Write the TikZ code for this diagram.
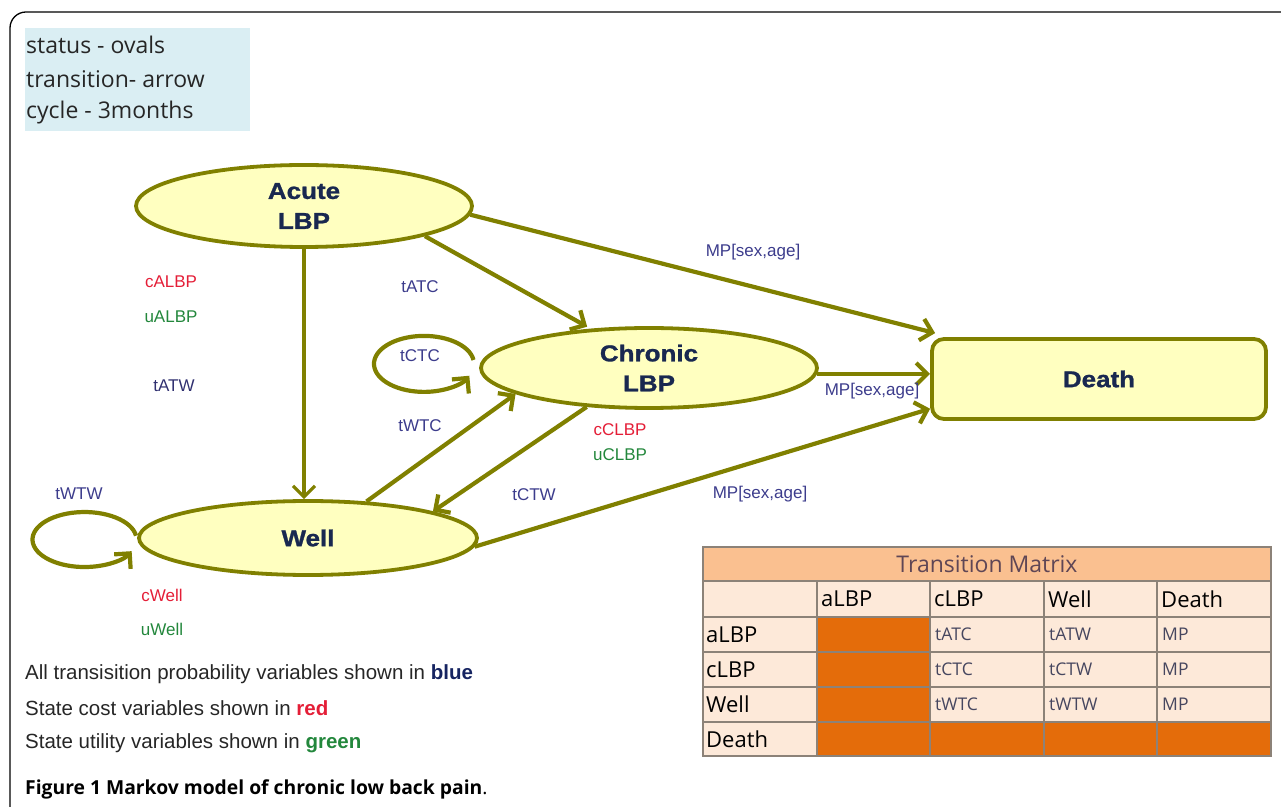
\documentclass[tikz,border=0pt]{standalone}
\usepackage{fontspec}
\setmainfont{Liberation Sans}
\newfontfamily\nodefont{Liberation Sans}[FakeStretch=1.13,FakeBold=1.2]
\newfontfamily\boxfont{Open Sans}
\usetikzlibrary{shapes.geometric,arrows.meta}
\definecolor{olv}{RGB}{128,128,0}
\definecolor{ellfill}{RGB}{255,255,192}
\definecolor{navy}{RGB}{25,40,80}
\definecolor{labblue}{RGB}{60,60,140}
\definecolor{labred}{RGB}{228,30,55}
\definecolor{labgreen}{RGB}{35,135,60}
\definecolor{legbg}{RGB}{218,238,243}
\definecolor{tabtitle}{RGB}{250,192,144}
\definecolor{tabcell}{RGB}{253,233,217}
\definecolor{tabdark}{RGB}{228,108,10}
\definecolor{tabline}{RGB}{140,130,120}
\definecolor{tabtxt}{RGB}{70,70,95}
\tikzset{
  state/.style={ellipse, draw=olv, line width=3.8pt, fill=ellfill, inner sep=0pt,
    text=navy, align=center, font=\nodefont\bfseries\fontsize{23}{30}\selectfont},
  arr/.style={draw=olv, line width=4.2pt, -{Straight Barb[length=11pt,width=22pt]}},
  lab/.style={inner sep=0pt, font=\fontsize{17}{20}\selectfont},
  legtxt/.style={inner sep=0pt, anchor=west, font=\boxfont\fontsize{23}{26}\selectfont, text=black!85},
  botleg/.style={inner sep=0pt, anchor=west, font=\fontsize{20.5}{24}\selectfont, text=black!85},
  hdr/.style={inner sep=0pt, anchor=west, font=\boxfont\fontsize{22}{24}\selectfont, text=black},
  cell/.style={inner sep=0pt, anchor=west, font=\boxfont\fontsize{17.5}{20}\selectfont, text=tabtxt}
}
\begin{document}
\begin{tikzpicture}[x=1pt,y=1pt]
\useasboundingbox (0,0) rectangle (1281,806);
% frame
\draw[line width=1.3pt, rounded corners=16pt] (10,-5) -- (10,794) -- (1290,794);
% legend box
\fill[legbg] (25,675) rectangle (250,778);
\node[legtxt] (l1) at (26,761) {status - ovals};
\node[legtxt] (l2) at (26,727) {transition- arrow};
\node[legtxt] (l3) at (26,693) {cycle - 3months};

% states
\node[state, minimum width=336pt, minimum height=82pt] (A) at (304,600) {Acute\\LBP};
\node[state, minimum width=336pt, minimum height=80pt] (C) at (649,438) {Chronic\\LBP};
\node[state, minimum width=338pt, minimum height=74pt] (W) at (308,268) {Well};
\node[draw=olv, line width=3.8pt, fill=ellfill, rounded corners=12pt, minimum width=334pt,
  minimum height=80pt, text=navy, font=\nodefont\bfseries\fontsize{23}{30}\selectfont] (D) at (1099,427) {Death};

% transitions
\draw[arr] (A.-3) -- ([shift={(5,4)}]D.north west);
\draw[arr, shorten >=4pt] (A.-14) -- (C.146);
\draw[arr, line width=3.2pt] (A.south) -- (A.south |- W.north);
\draw[arr] (C.-2) -- (C.-2 -| D.west);
\draw[arr] (W.-3) -- (D.190);
\draw[arr] (W.32) -- (C.191);
\draw[arr] (C.212) -- (W.12);
% self loops
\coordinate (ctc) at (473.5,446);
\draw[arr] (ctc) arc[start angle=8, end angle=335, x radius=50, y radius=28];
\coordinate (wtw) at (136,270.3);
\draw[arr] (wtw) arc[start angle=8, end angle=335, x radius=52, y radius=27.5];

% labels
\node[lab, text=labblue] (mp1) at (753,554) {MP[sex,age]};
\node[lab, text=labblue] (tatc) at (420,519) {tATC};
\node[lab, text=labred] (calbp) at (171,524) {cALBP};
\node[lab, text=labgreen] (ualbp) at (171,489) {uALBP};
\node[lab, text=labblue!80!black] (tatw) at (174,420) {tATW};
\node[lab, text=labblue] (tctc) at (420,450) {tCTC};
\node[lab, text=labblue] (mp2) at (872,415) {MP[sex,age]};
\node[lab, text=labblue] (twtc) at (420,380) {tWTC};
\node[lab, text=labred] (cclbp) at (620,376) {cCLBP};
\node[lab, text=labgreen] (uclbp) at (620,351) {uCLBP};
\node[lab, text=labblue] (tctw) at (534,311) {tCTW};
\node[lab, text=labblue] (mp3) at (760,312) {MP[sex,age]};
\node[lab, text=labblue] (twtw) at (79,312) {tWTW};
\node[lab, text=labred] (cwell) at (162,211) {cWell};
\node[lab, text=labgreen] (uwell) at (162,177) {uWell};

% bottom legend
\node[botleg] (b1) at (25,132) {All transisition probability variables shown in \textcolor{navy!90!blue}{\bfseries blue}};
\node[botleg] (b2) at (25,98) {State cost variables shown in \textcolor{labred}{\bfseries red}};
\node[botleg] (b3) at (25,63) {State utility variables shown in \textcolor{labgreen}{\bfseries green}};
\node[inner sep=0pt, anchor=west, font=\boxfont\fontsize{19.3}{22}\selectfont] (cap) at (25,17)
  {\bfseries Figure 1 Markov model of chronic low back pain\mdseries.};

% transition matrix
\fill[tabtitle] (703,225) rectangle (1271,259);
\fill[tabcell] (703,50) rectangle (1271,225);
\fill[tabdark] (817,50) rectangle (930,189);
\fill[tabdark] (930,50) rectangle (1271,84);
\draw[tabline, line width=1.2pt] (703,50) rectangle (1271,259);
\foreach \yy in {225,189,154,119,84} \draw[tabline, line width=1.2pt] (703,\yy) -- (1271,\yy);
\foreach \xx in {817,930,1044,1157} \draw[tabline, line width=1.2pt] (\xx,50) -- (\xx,225);
\node[inner sep=0pt, font=\boxfont\fontsize{23}{25}\selectfont, text={rgb,255:red,95;green,70;blue,85}] (tm) at (987,242) {Transition Matrix};
\node[hdr] (h1) at (821,207) {aLBP};
\node[hdr] (h2) at (934,207) {cLBP};
\node[hdr] (h3) at (1048,207) {Well};
\node[hdr] (h4) at (1161,207) {Death};
\node[hdr] (r1) at (706,171.5) {aLBP};
\node[hdr] (r2) at (706,136.5) {cLBP};
\node[hdr] (r3) at (706,101.5) {Well};
\node[hdr] (r4) at (706,67) {Death};
\node[cell] (c11) at (935,171.5) {tATC};
\node[cell] (c12) at (1049,171.5) {tATW};
\node[cell] (c13) at (1162,171.5) {MP};
\node[cell] (c21) at (935,136.5) {tCTC};
\node[cell] (c22) at (1049,136.5) {tCTW};
\node[cell] (c23) at (1162,136.5) {MP};
\node[cell] (c31) at (935,101.5) {tWTC};
\node[cell] (c32) at (1049,101.5) {tWTW};
\node[cell] (c33) at (1162,101.5) {MP};
\end{tikzpicture}
\end{document}
